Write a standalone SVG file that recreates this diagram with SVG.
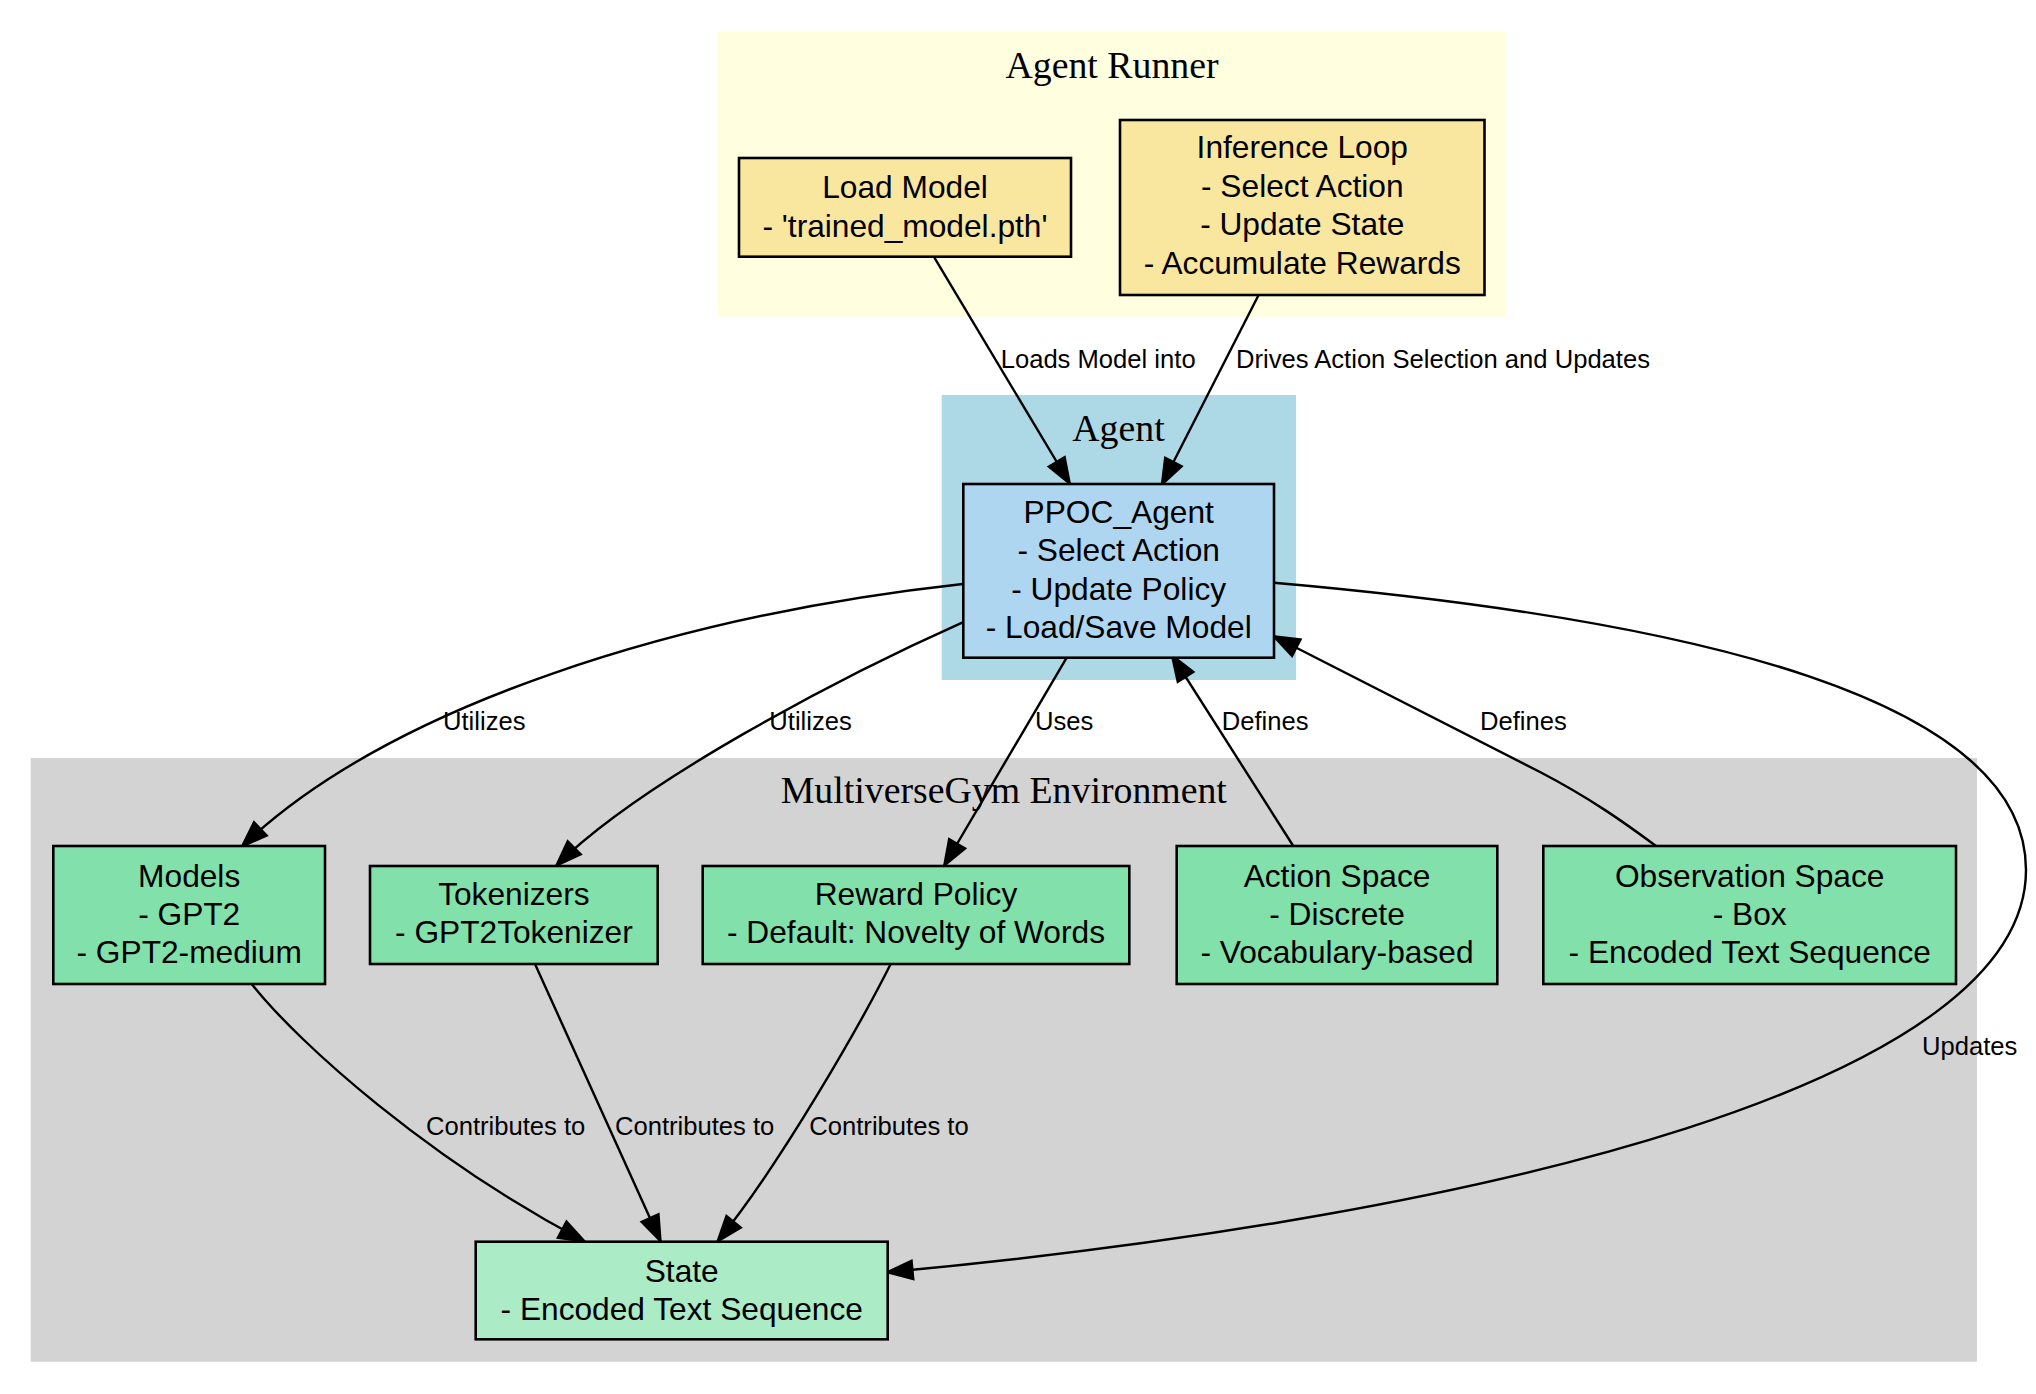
<svg xmlns="http://www.w3.org/2000/svg" width="2036" height="1394" viewBox="0 0 2036 1394">
<style>
.cl{font-family:"Liberation Serif","Times New Roman",serif;font-size:37.8px;text-anchor:middle;fill:#000}
.nt{font-family:"Liberation Sans",Arial,Helvetica,sans-serif;font-size:31.7px;text-anchor:middle;fill:#000}
.el{font-family:"Liberation Sans",Arial,Helvetica,sans-serif;font-size:25.6px;fill:#000}
.nd{stroke:#000;stroke-width:2.6}
.ed{fill:none;stroke:#000;stroke-width:2.4;marker-end:url(#ah)}
</style>
<defs>
<marker id="ah" markerUnits="userSpaceOnUse" markerWidth="34" markerHeight="26" viewBox="-2 -13 34 26" refX="26" refY="0" orient="auto">
<path d="M0,-9.5 L26,0 L0,9.5 Z" fill="#000" stroke="#000" stroke-width="2"/>
</marker>
</defs>
<rect width="2036" height="1394" fill="#fff"/>
<g id="cluster-runner">
<rect x="718" y="31.7" width="788.5" height="285" fill="#FFFFE0"/>
<text class="cl" x="1112" y="78">Agent Runner</text>
</g>
<g id="cluster-agent">
<rect x="941.7" y="395" width="354.3" height="285" fill="#ADD8E6"/>
<text class="cl" x="1118.5" y="441">Agent</text>
</g>
<g id="cluster-env">
<rect x="30.7" y="758" width="1946.3" height="603.7" fill="#D3D3D3"/>
<text class="cl" x="1003.8" y="803.3">MultiverseGym Environment</text>
</g>
<g id="connectors">
<path class="ed" d="M933.8,256.7 L1070,484"/>
<path class="ed" d="M1258.6,295 L1161.7,485"/>
<path class="ed" d="M962.7,584 C680,615 390,705 241.7,846.7"/>
<path class="ed" d="M962.7,622.3 C840,677 640,782 556,866"/>
<path class="ed" d="M1066.7,657.7 L944,866"/>
<path class="ed" d="M1293.3,846 L1171.7,655"/>
<path class="ed" d="M1656,846 C1625,823 1590,798 1540,772 L1273.3,636"/>
<path class="ed" d="M1274,582.7 C1700,620 2026,700 2026,870 C2026,1080 1500,1215 886.7,1272.3"/>
<path class="ed" d="M251.7,984 C300,1045 430,1160 585,1241.7"/>
<path class="ed" d="M535,964 L660.7,1241.7"/>
<path class="ed" d="M890.7,964 C860,1025 780,1165 717.3,1241.7"/>
<text class="el" x="1000.7" y="368">Loads Model into</text>
<text class="el" x="1236" y="368">Drives Action Selection and Updates</text>
<text class="el" x="443" y="730">Utilizes</text>
<text class="el" x="769.3" y="730">Utilizes</text>
<text class="el" x="1035" y="730">Uses</text>
<text class="el" x="1221.7" y="730">Defines</text>
<text class="el" x="1480" y="730">Defines</text>
<text class="el" x="426" y="1135">Contributes to</text>
<text class="el" x="615" y="1135">Contributes to</text>
<text class="el" x="809.3" y="1135">Contributes to</text>
<text class="el" x="1922" y="1055">Updates</text>
</g>
<g id="node-load-model">
<rect class="nd" x="739" y="158" width="332" height="98.7" fill="#F9E79F"/>
<text class="nt" x="905" y="198">Load Model</text>
<text class="nt" x="905" y="236.7">- 'trained_model.pth'</text>
</g>
<g id="node-inference-loop">
<rect class="nd" x="1120" y="120" width="364.5" height="175" fill="#F9E79F"/>
<text class="nt" x="1302.3" y="158">Inference Loop</text>
<text class="nt" x="1302.3" y="196.7">- Select Action</text>
<text class="nt" x="1302.3" y="235">- Update State</text>
<text class="nt" x="1302.3" y="274">- Accumulate Rewards</text>
</g>
<g id="node-ppoc-agent">
<rect class="nd" x="963.3" y="484" width="310.7" height="173.7" fill="#AED6F1"/>
<text class="nt" x="1118.7" y="523">PPOC_Agent</text>
<text class="nt" x="1118.7" y="561.3">- Select Action</text>
<text class="nt" x="1118.7" y="599.6">- Update Policy</text>
<text class="nt" x="1118.7" y="637.9">- Load/Save Model</text>
</g>
<g id="node-models">
<rect class="nd" x="53.3" y="846" width="271.7" height="138" fill="#82E0AA"/>
<text class="nt" x="189.2" y="886.7">Models</text>
<text class="nt" x="189.2" y="925">- GPT2</text>
<text class="nt" x="189.2" y="963.3">- GPT2-medium</text>
</g>
<g id="node-tokenizers">
<rect class="nd" x="370" y="866" width="287.7" height="98" fill="#82E0AA"/>
<text class="nt" x="513.9" y="905">Tokenizers</text>
<text class="nt" x="513.9" y="943.3">- GPT2Tokenizer</text>
</g>
<g id="node-reward-policy">
<rect class="nd" x="702.7" y="866" width="426.6" height="98" fill="#82E0AA"/>
<text class="nt" x="916" y="905">Reward Policy</text>
<text class="nt" x="916" y="943.3">- Default: Novelty of Words</text>
</g>
<g id="node-action-space">
<rect class="nd" x="1176.7" y="846" width="320.6" height="138" fill="#82E0AA"/>
<text class="nt" x="1337" y="886.7">Action Space</text>
<text class="nt" x="1337" y="925">- Discrete</text>
<text class="nt" x="1337" y="963.3">- Vocabulary-based</text>
</g>
<g id="node-observation-space">
<rect class="nd" x="1543.3" y="846" width="412.7" height="138" fill="#82E0AA"/>
<text class="nt" x="1749.7" y="886.7">Observation Space</text>
<text class="nt" x="1749.7" y="925">- Box</text>
<text class="nt" x="1749.7" y="963.3">- Encoded Text Sequence</text>
</g>
<g id="node-state">
<rect class="nd" x="475.7" y="1241.7" width="412" height="97.6" fill="#ABEBC6"/>
<text class="nt" x="681.7" y="1281.7">State</text>
<text class="nt" x="681.7" y="1320">- Encoded Text Sequence</text>
</g>
</svg>
